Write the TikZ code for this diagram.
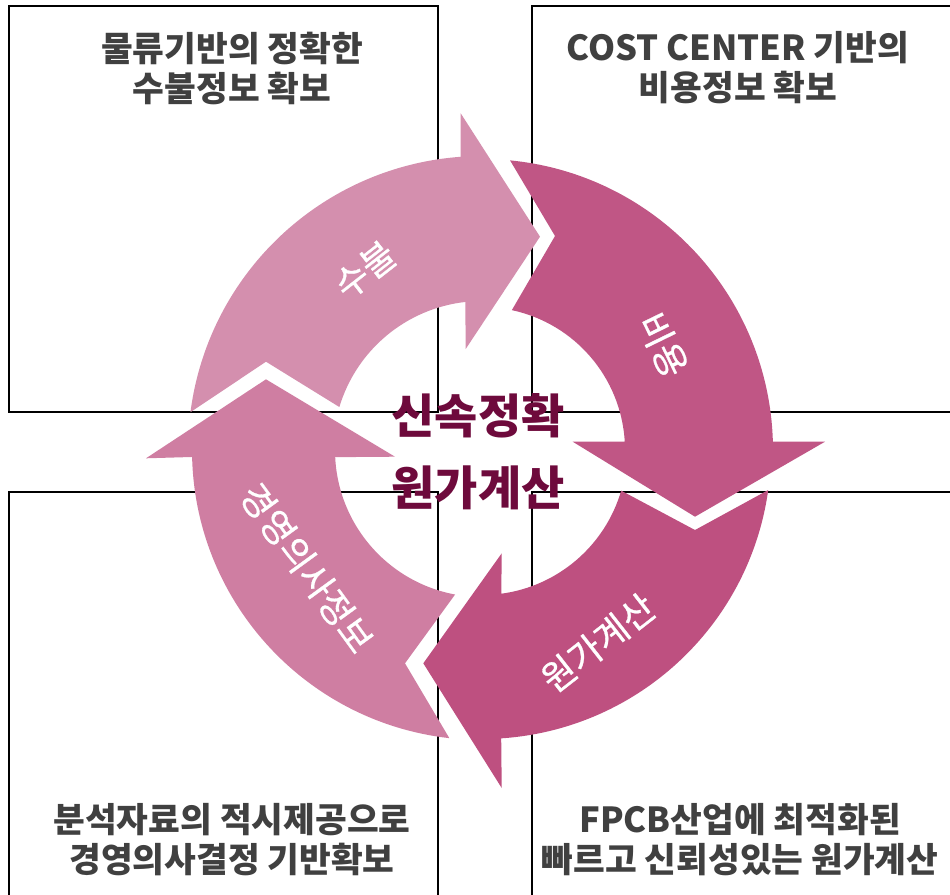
\documentclass[tikz,border=0pt]{standalone}
\usepackage{fontspec}
\setmainfont{Noto Sans CJK KR}
\newfontfamily\lblfont{Noto Sans CJK KR}[FakeBold=0.8]
\usetikzlibrary{calc}
\definecolor{aone}{HTML}{D48FAE}
\definecolor{atwo}{HTML}{C05685}
\definecolor{athree}{HTML}{BE5080}
\definecolor{afour}{HTML}{CF7EA2}
\definecolor{txtgray}{HTML}{404040}
\definecolor{maroonc}{HTML}{6E0A3C}
\begin{document}
\begin{tikzpicture}[x=1pt,y=-1pt,
  box/.style={draw=black, line width=1.6pt},
  boxtext/.style={text=txtgray, font=\bfseries\fontsize{34.5}{40}\selectfont, align=center, inner sep=0pt},
  arrowlabel/.style={text=white, font=\lblfont\fontsize{36}{36}\selectfont, inner sep=0pt},
  centertext/.style={text=maroonc, font=\bfseries\fontsize{47}{72}\selectfont, align=center, inner sep=0pt}]
\useasboundingbox (0,0) rectangle (950,894);
% boxes
\draw[box] (9,6) rectangle (438,412);
\draw[box] (532,6) rectangle (970,412);
\draw[box] (9,492) rectangle (438,920);
\draw[box] (532,492) rectangle (970,920);
% cycle arrows
\coordinate (C) at (482,450);
\fill[aone] ($(C)+(187.39:294)$) arc[start angle=187.39, end angle=265.82, radius=294]
  -- (460.7,113.3) -- (540,236.7) -- (465.7,349)
  -- ($(C)+(263.56:149)$) arc[start angle=263.56, end angle=196.77, radius=149]
  -- (266,361.7) -- cycle;
\fill[atwo] ($(C)+(275.53:291)$) arc[start angle=275.53, end angle=358.35, radius=291]
  -- (825,441.7) -- (695,516.7) -- (572.7,441.7)
  -- ($(C)+(356.64:143)$) arc[start angle=356.64, end angle=282.04, radius=143]
  -- (555,236) -- cycle;
\fill[athree] ($(C)+(7.96:289)$) arc[start angle=7.96, end angle=86.19, radius=289]
  -- (501.7,788) -- (423.3,663.3) -- (501.7,553.3)
  -- ($(C)+(82.35:145)$) arc[start angle=82.35, end angle=16.28, radius=145]
  -- (695,530) -- cycle;
\fill[afour] ($(C)+(96.47:290)$) arc[start angle=96.47, end angle=178.62, radius=290]
  -- (146,458.3) -- (266,379.3) -- (395,456.7)
  -- ($(C)+(177.21:147)$) arc[start angle=177.21, end angle=100.55, radius=147]
  -- (405,663.3) -- cycle;
% arrow labels
\node[arrowlabel, rotate=38] (l1) at (365,270) {수불};
\node[arrowlabel, rotate=-64] (l2) at (663,345) {비용};
\node[arrowlabel, rotate=38] (l3) at (598,643) {원가계산};
\node[arrowlabel, rotate=-54] (l4) at (307,568) {경영의사정보};
% centre
\node[centertext] (ct) at (478,452) {신속정확\\원가계산};
% box texts
\node[boxtext] (t1) at (232,68) {물류기반의 정확한\\수불정보 확보};
\node[boxtext] (t2) at (738,68) {COST CENTER 기반의\\비용정보 확보};
\node[boxtext] (t3) at (232,840) {분석자료의 적시제공으로\\경영의사결정 기반확보};
\node[boxtext] (t4) at (740,840) {FPCB산업에 최적화된\\빠르고 신뢰성있는 원가계산};
\end{tikzpicture}
\end{document}
